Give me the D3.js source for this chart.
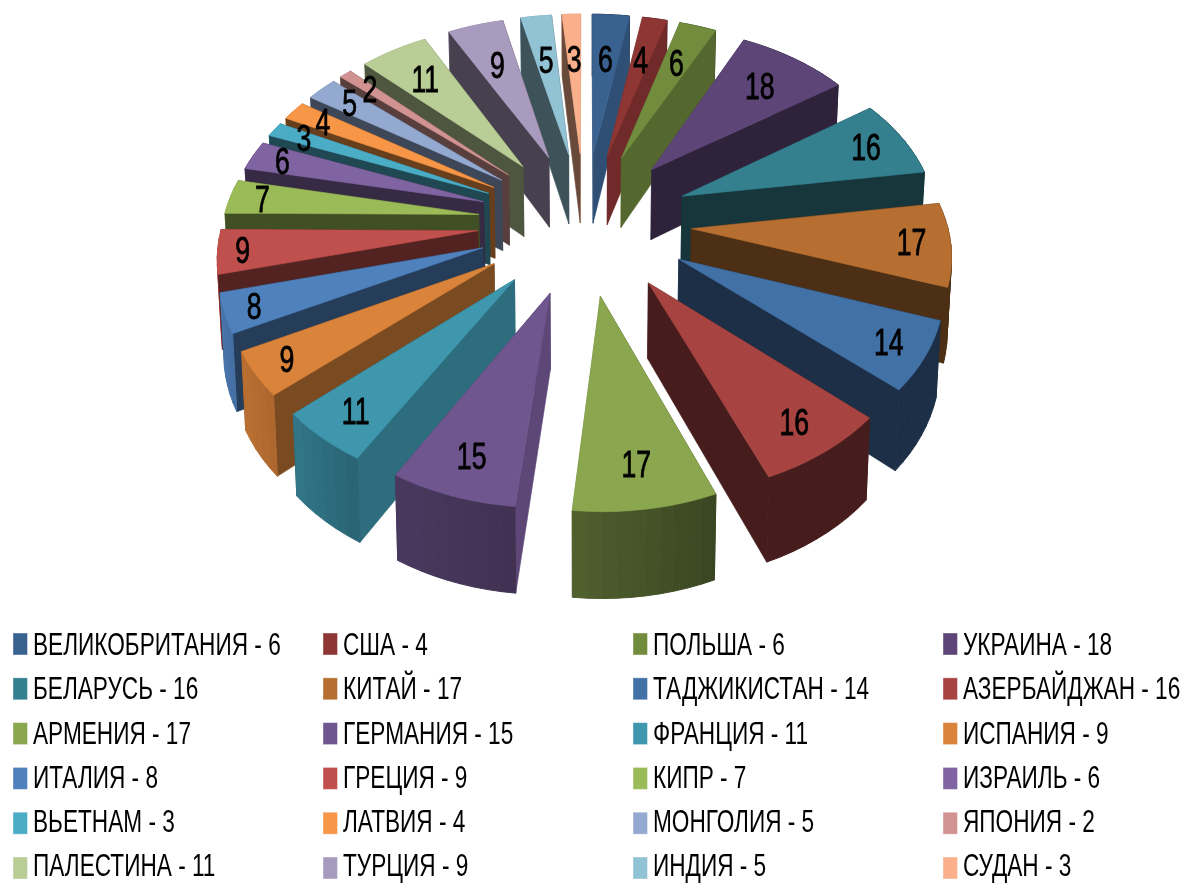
<!DOCTYPE html>
<html>
<head>
<meta charset="utf-8">
<script src="https://cdn.jsdelivr.net/npm/d3@7"></script>
<style>
  html, body { margin: 0; background: #fff; }
  svg { display: block; filter: blur(0.5px); }
  text { font-family: "Liberation Sans", sans-serif; fill: #000; }
</style>
</head>
<body>
<div id="graf"></div>
<script>
// datos
paises = ['ВЕЛИКОБРИТАНИЯ','США','ПОЛЬША','УКРАИНА','БЕЛАРУСЬ','КИТАЙ','ТАДЖИКИСТАН','АЗЕРБАЙДЖАН',
          'АРМЕНИЯ','ГЕРМАНИЯ','ФРАНЦИЯ','ИСПАНИЯ','ИТАЛИЯ','ГРЕЦИЯ','КИПР','ИЗРАИЛЬ',
          'ВЬЕТНАМ','ЛАТВИЯ','МОНГОЛИЯ','ЯПОНИЯ','ПАЛЕСТИНА','ТУРЦИЯ','ИНДИЯ','СУДАН']
valores = [6,4,6,18,16,17,14,16,17,15,11,9,8,9,7,6,3,4,5,2,11,9,5,3]
colores = ['#3a6290','#8e3634','#728c3e','#5d4677','#35808f','#b66f30','#4271a6','#a74442',
           '#8aa64f','#6f568f','#3f97ae','#da833b','#4f81bd','#c0504d','#9bbb59','#8064a2',
           '#4bacc6','#f79646','#93a9d0','#d19392','#b9cd96','#a99bbd','#92c3d5','#fab08a']

ancho = 1184
alto = 883

// parametros de la vista 3D
explode = 0.418
perspectiva = 0.117
grosor = 72.5 / 171

svg = d3.select('#graf').append('svg')
        .attr('width', ancho)
        .attr('height', alto)

// escalas del plano del pastel
x = d3.scaleLinear().domain([-1, 1]).range([584.5 - 255.5, 584.5 + 255.5])
y = d3.scaleLinear().domain([-1, 1]).range([222 - 171, 222 + 171])

// sombra de caras y borde exterior segun el angulo (grados)
sombraCara = d3.scaleLinear().domain([0, 30, 55, 80]).range([0.85, 0.72, 0.5, 0.42]).clamp(true)
sombraBorde = d3.scaleLinear().domain([130, 158, 186, 210, 230, 260]).range([0.42, 0.42, 0.58, 0.66, 0.8, 0.93]).clamp(true)
// distancia de la etiqueta segun el angulo (grados)
radioEtiqueta = d3.scaleLinear()
  .domain([0, 40, 68, 95, 120, 145, 172, 198, 219, 235, 249, 263, 276, 287, 307, 313, 323, 339, 360])
  .range([0.65, 0.74, 0.83, 0.85, 0.86, 0.84, 0.81, 0.82, 0.84, 0.875, 0.89, 0.905, 0.87, 0.87, 0.835, 0.84, 0.74, 0.68, 0.65])

linea = d3.line()

// proyeccion de un punto (u, v) del plano; nivel 0 arriba, 1 abajo
function proy(p, nivel) {
  s = 1 / (1 - perspectiva * p[1])
  return [
    x(p[0] * s * (1 - 0.012 * nivel)),
    y(p[1] * s) + nivel * grosor * (y(1) - y(0)) * s
  ]
}

function punto(d, a, r) {
  m = (d.startAngle + d.endAngle) / 2
  return [explode * Math.sin(m) + r * Math.sin(a), -explode * Math.cos(m) - r * Math.cos(a)]
}

function oscurecer(color, f) {
  c = d3.rgb(color)
  return d3.rgb(c.r * f, c.g * f, c.b * f).formatHex()
}

function grados(a) { return a * 180 / Math.PI }

porciones = d3.pie().sort(null).value((d, i) => d)(valores)
porciones.forEach((d, i) => {
  d.color = colores[i]
  d.medio = (d.startAngle + d.endAngle) / 2
})

// de atras hacia adelante
orden = porciones.slice().sort((a, b) => -Math.cos(a.medio) - -Math.cos(b.medio))

function poligono(g, pts, color, trazo) {
  g.append('path')
    .attr('d', linea(pts) + 'Z')
    .attr('fill', color)
    .attr('stroke', color)
    .attr('stroke-width', trazo)
    .attr('stroke-linejoin', 'round')
}

orden.forEach(d => {
  g = svg.append('g').attr('class', 'porcion')
  centro = punto(d, 0, 0)

  // caras: borde exterior y dos cortes radiales, ordenadas por profundidad
  caras = []
  ;[d.startAngle, d.endAngle].forEach(a => {
    p = punto(d, a, 1)
    caras.push({
      prof: (centro[1] + p[1]) / 2,
      trazo: 0.6,
      pts: [proy(centro, 0), proy(p, 0), proy(p, 1), proy(centro, 1)],
      color: oscurecer(d.color, sombraCara(grados(a) % 180))
    })
  })
  n = Math.max(2, Math.ceil(grados(d.endAngle - d.startAngle) / 3))
  angulos = d3.range(n + 1).map(i => d.startAngle + (d.endAngle - d.startAngle) * i / n)
  d3.pairs(angulos).forEach(par => {
    p0 = punto(d, par[0], 1)
    p1 = punto(d, par[1], 1)
    caras.push({
      prof: punto(d, d.medio, 1)[1],
      trazo: 1,
      pts: [proy(p0, 0), proy(p1, 0), proy(p1, 1), proy(p0, 1)],
      color: oscurecer(d.color, sombraBorde(grados((par[0] + par[1]) / 2)))
    })
  })
  caras.sort((a, b) => a.prof - b.prof)
  caras.forEach(c => poligono(g, c.pts, c.color, c.trazo))

  // tapa superior
  tapa = [proy(centro, 0)].concat(angulos.map(a => proy(punto(d, a, 1), 0)))
  poligono(g, tapa, d.color, 0.6)
})

// etiquetas de valor
porciones.forEach((d, i) => {
  pos = proy(punto(d, d.medio, radioEtiqueta(grados(d.medio))), 0)
  svg.append('text')
    .attr('class', 'etiqueta')
    .attr('transform', `translate(${pos[0]}, ${pos[1] + 13}) scale(0.72, 1)`)
    .attr('text-anchor', 'middle')
    .attr('font-size', 37)
    .attr('stroke', '#000')
    .attr('stroke-width', 0.8)
    .text(valores[i])
})

// leyenda en 4 columnas y 6 filas
columnas = d3.scaleBand().domain(d3.range(4)).range([13, 13 + 4 * 310])
filas = d3.scaleLinear().domain([0, 5]).range([633, 857])
lineasBase = d3.scaleLinear().domain([0, 5]).range([655, 876.3])

leyenda = svg.append('g').attr('class', 'leyenda')
paises.forEach((p, i) => {
  col = i % 4
  fila = Math.floor(i / 4)
  leyenda.append('rect')
    .attr('x', columnas(col))
    .attr('y', filas(fila))
    .attr('width', 14.5)
    .attr('height', 22)
    .attr('fill', colores[i])
    .attr('stroke', '#fff')
    .attr('stroke-opacity', 0.4)
  leyenda.append('text')
    .attr('transform', `translate(${columnas(col) + 20}, ${lineasBase(fila)}) scale(0.73, 1)`)
    .attr('font-size', 31)
    .text(p + ' - ' + valores[i])
})
</script>
</body>
</html>
